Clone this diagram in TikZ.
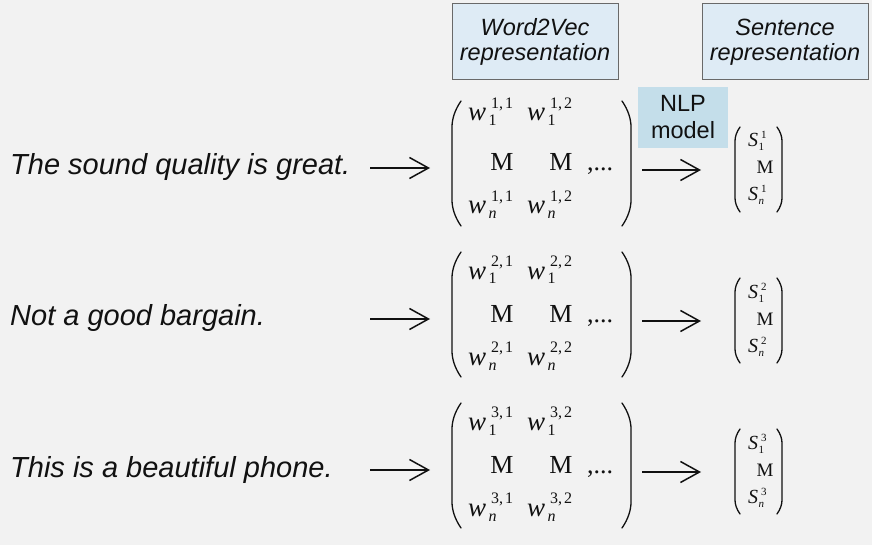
\documentclass[tikz,border=0pt]{standalone}
\usepackage{fontspec}
\setmainfont{Liberation Sans}
\newfontfamily\tms{Liberation Serif}
\usetikzlibrary{arrows.meta}

\definecolor{bg}{RGB}{242,242,242}
\definecolor{hdrfill}{RGB}{222,235,245}
\definecolor{hdrline}{RGB}{105,105,105}
\definecolor{nlpfill}{RGB}{196,222,234}
\definecolor{ink}{RGB}{17,17,17}

% fonts of the formulas
\newcommand\wfont{\tms\itshape\fontsize{27}{27}\selectfont}
\newcommand\mfont{\tms\fontsize{26}{26}\selectfont}
\newcommand\ssfont{\tms\fontsize{16}{16}\selectfont}
\newcommand\vfont{\tms\itshape\fontsize{20}{20}\selectfont}
\newcommand\vmfont{\tms\fontsize{19}{19}\selectfont}
\newcommand\vsfont{\tms\fontsize{11}{11}\selectfont}

% one matrix entry: w with stacked superscript and subscript
\newcommand\wcell[2]{{\wfont w}\kern2.5pt\rlap{\raisebox{-5pt}{\ssfont #2}}\kern2.5pt\raisebox{12.5pt}{\ssfont #1}}
% one vector entry: S with stacked superscript and subscript
\newcommand\scell[2]{{\vfont S}\kern0.5pt\rlap{\raisebox{-4pt}{\vsfont #2}}\kern2.5pt\raisebox{8pt}{\vsfont #1}}

% a tall bracket: x, top, bottom, hook (signed), curve height
\newcommand\bracket[5]{%
  \draw[parline] ({#1+(#4)},#2) .. controls ({#1+0.3*(#4)},{#2+0.35*#5}) and (#1,{#2+0.7*#5}) .. (#1,{#2+#5})
    -- (#1,{#3-#5}) .. controls (#1,{#3-0.7*#5}) and ({#1+0.3*(#4)},{#3-0.35*#5}) .. ({#1+(#4)},#3);}

\tikzset{
  cell/.style={inner sep=0pt, text=ink},
  sentence/.style={inner sep=0pt, anchor=base west, text=ink,
    font=\itshape\fontsize{29}{30}\selectfont},
  header/.style={draw=hdrline, line width=1pt, fill=hdrfill, inner sep=0pt,
    minimum width=166pt, minimum height=76pt, align=center, text=ink,
    font=\itshape\fontsize{23.5}{25}\selectfont},
  modelbox/.style={fill=nlpfill, inner sep=0pt, minimum width=90pt,
    minimum height=61pt, align=center, text=ink,
    font=\fontsize{23.5}{27}\selectfont},
  arr/.style={line width=1.5pt, draw=ink, -{Straight Barb[length=19pt,width=21pt]}},
  parline/.style={line width=1.3pt, draw=ink, line cap=round},
}

\begin{document}
\begin{tikzpicture}[x=1pt, y=-1pt]
  \fill[bg] (0,0) rectangle (872,545);
  \useasboundingbox (0,0) rectangle (872,545);

  % column headers
  \node[header] (hw2v) at (535,42) {Word2Vec\\representation};
  \node[header] (hsent) at (785,42) {Sentence\\representation};
  \node[modelbox] (nlp) at (683,117.5) {NLP\\model};

  % input sentences
  \node[sentence] (t1) at (10,175) {The sound quality is great.};
  \node[sentence] (t2) at (10,325) {Not a good bargain.};
  \node[sentence] (t3) at (10,477) {This is a beautiful phone.};

  \foreach \k/\r/\tp in {1/170/-49,2/321/-42,3/472/-42}{
    % sentence -> embedding matrix
    \coordinate (sa\k) at (370,{\r-2});
    \coordinate (sb\k) at (430,{\r-2});
    \draw[arr] (sa\k) -- (sb\k);

    % embedding matrix
    \bracket{452}{\r-69}{\r+56}{9}{26}
    \bracket{631}{\r-69}{\r+56}{-9}{26}
    \node[cell, anchor=base west] (w\k a) at (468,{\r+\tp}) {\wcell{\k,\kern2pt1}{1}};
    \node[cell, anchor=base west] (w\k b) at (527,{\r+\tp}) {\wcell{\k,\kern2pt2}{1}};
    \node[cell, anchor=base] (m\k a) at (502,{\r+1}) {\mfont M};
    \node[cell, anchor=base] (m\k b) at (561,{\r+1}) {\mfont M};
    \node[cell, anchor=base west] (d\k) at (587,{\r+1}) {\mfont ,...};
    \node[cell, anchor=base west] (w\k c) at (468,{\r+44}) {\wcell{\k,\kern2pt1}{\itshape n}};
    \node[cell, anchor=base west] (w\k d) at (527,{\r+44}) {\wcell{\k,\kern2pt2}{\itshape n}};

    % matrix -> sentence vector
    \coordinate (ma\k) at (642,\r);
    \coordinate (mb\k) at (701,\r);
    \draw[arr] (ma\k) -- (mb\k);

    % sentence vector
    \bracket{735}{\r-43}{\r+42}{5}{14}
    \bracket{782}{\r-43}{\r+42}{-5}{14}
    \node[cell, anchor=base west] (s\k a) at (748,{\r-23}) {\scell{\k}{1}};
    \node[cell, anchor=base] (s\k m) at (765,{\r+4}) {\vmfont M};
    \node[cell, anchor=base west] (s\k b) at (748,{\r+31}) {\scell{\k}{\itshape n}};
  }
\end{tikzpicture}
\end{document}
